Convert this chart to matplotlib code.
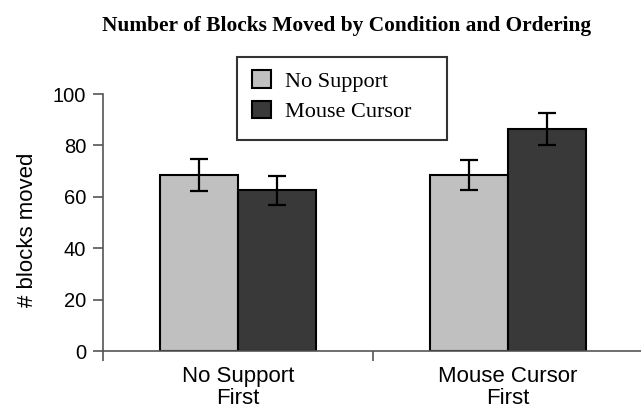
import numpy as np
import matplotlib
matplotlib.use("Agg")
import matplotlib.pyplot as plt
from matplotlib.patches import Rectangle

# data
orderings = ["No Support\nFirst", "Mouse Cursor\nFirst"]
conditions = ["No Support", "Mouse Cursor"]
no_support = [68.5, 68.5]
mouse_cursor = [62.5, 86.5]
no_support_err = [6.3, 6.0]
mouse_cursor_err = [5.8, 6.2]

colors = ["#c0c0c0", "#393939"]

fig = plt.figure(figsize=(6.41, 4.13), dpi=100)
ax = fig.add_axes([103 / 641, 0.150, 540 / 641, 257 / 413])

x = np.arange(len(orderings)) + 0.5
w = 0.289
err_kw = dict(ecolor="black", elinewidth=1.6, capsize=6.5, capthick=1.6)
ax.bar(x - w / 2, no_support, w, yerr=no_support_err, color=colors[0],
       edgecolor="black", linewidth=1.5, label=conditions[0], error_kw=err_kw)
ax.bar(x + w / 2, mouse_cursor, w, yerr=mouse_cursor_err, color=colors[1],
       edgecolor="black", linewidth=1.5, label=conditions[1], error_kw=err_kw)

ax.set_xlim(0, 2)
ax.set_ylim(0, 100)
ax.set_yticks([0, 20, 40, 60, 80, 100])

# category labels in the middle, ticks at the group boundaries
ax.set_xticks([0, 1, 2])
ax.set_xticklabels([])
ax.set_xticks(x, minor=True)
ax.set_xticklabels(orderings, minor=True, fontsize=16, family="Liberation Sans",
                   linespacing=1.05)
ax.tick_params(axis="x", which="minor", length=0, pad=11)
ax.tick_params(axis="x", which="major", length=7, width=1.2, color="#555555")
ax.tick_params(axis="y", length=7, width=1.2, color="#555555", labelsize=14.5,
               pad=5)
for t in ax.get_yticklabels():
    t.set_family("Liberation Sans")

for s in ["top", "right"]:
    ax.spines[s].set_visible(False)
for s in ["left", "bottom"]:
    ax.spines[s].set_color("#555555")
    ax.spines[s].set_linewidth(1.2)

ax.set_ylabel("# blocks moved", fontsize=16, family="Liberation Sans")
ax.yaxis.set_label_coords(-0.121, 0.47)

fig.text(0.541, 0.937, "Number of Blocks Moved by Condition and Ordering",
         ha="center", va="center", fontsize=15.4, fontweight="bold",
         family="Liberation Serif")

# legend entries, with a wider box drawn around them like the original
leg = ax.legend(loc="upper left", bbox_to_anchor=(252 / 641, 1 - 70 / 413),
                bbox_transform=fig.transFigure,
                prop={"family": "Liberation Serif", "size": 16},
                frameon=False, handlelength=0.86, handleheight=0.86,
                borderpad=0, labelspacing=0.4, handletextpad=0.63,
                borderaxespad=0)
fig.patches.append(Rectangle((237 / 641, 1 - 140 / 413), 210 / 641, 83 / 413,
                             transform=fig.transFigure, fill=False,
                             edgecolor="#333333", linewidth=1.5))

plt.savefig("out.png", dpi=100)
